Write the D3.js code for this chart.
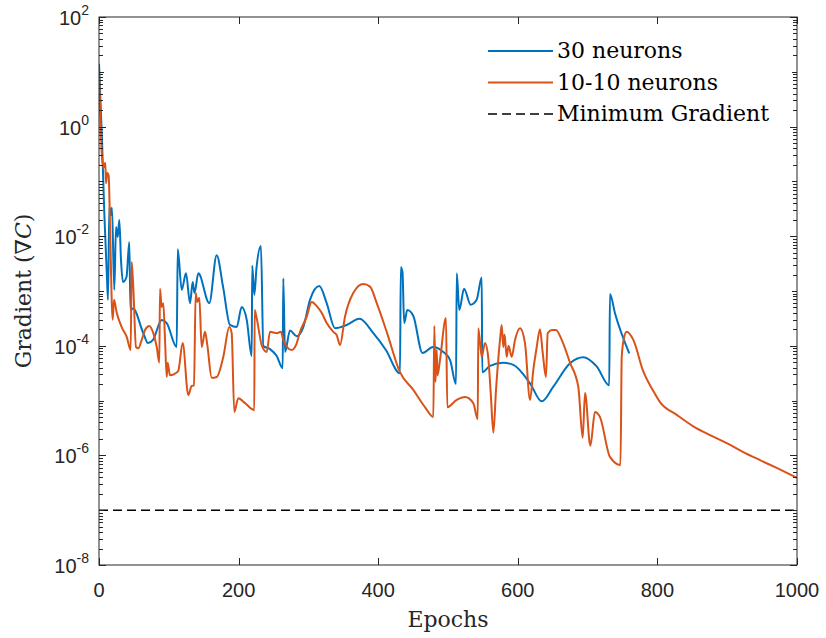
<!DOCTYPE html>
<html>
<head>
<meta charset="utf-8">
<script src="https://cdn.jsdelivr.net/npm/d3@7"></script>
<style>
  body { margin: 0; background: #fff; }
  svg { display: block; }
</style>
</head>
<body>
<svg width="826" height="638"></svg>
<script>
// Data
var epochs30 = [0, 4.3, 6.2, 7.6, 11, 12.9, 14.8, 16.5, 18.6, 21.9, 24.4, 26.8, 29.1, 31.5, 34.4, 39.4, 43.4, 45.1, 48.7, 63.5,
  70.2, 77.4, 89.8, 97, 111.3, 112.8, 118.5, 124.6, 130.4, 134.2, 136.8, 142.3, 158, 168.6, 177.7, 187.7, 197.3, 204.4, 211.6, 218.8,
  219.5, 222.5, 225.6, 232, 235.4, 245, 254.6, 263.2, 264, 266.5, 273.6, 283.2, 292.7, 302.3, 315.6, 326.2, 338, 354.9, 373.2, 393,
  411, 431.2, 432.4, 434.8, 437.2, 441.7, 450.3, 463.5, 478.5, 493.3, 503, 511.5, 512.5, 516.2, 523, 532.5, 541, 548.3, 549.1, 560.2,
  579.2, 593.6, 617.5, 634.2, 650.9, 674.8, 693.8, 713, 731, 732, 739.3, 759.7];
var grad30 = [14, 0.57, 0.093, 0.0265, 0.0024, 6.9e-4, 0.034, 0.024, 0.033, 1.05e-3, 0.0147, 0.0097, 0.0198, 0.0037, 0.00146, 0.0018, 0.0078, 4.5e-4, 4.8e-4, 1.7e-4,
  1.12e-4, 1.28e-4, 2.96e-4, 2.6e-4, 9.5e-5, 0.0058, 0.00105, 0.0021, 6.0e-4, 0.00146, 9.2e-4, 0.0021, 6.0e-4, 0.0045, 0.0012, 2.4e-4, 2.2e-4, 5.1e-4, 3.0e-4, 6.5e-5,
  0.0029, 8.5e-4, 0.0026, 0.0066, 9.9e-5, 8.7e-5, 6.5e-5, 3.9e-5, 0.0017, 7.7e-5, 1.9e-4, 1.5e-4, 2.2e-4, 6.9e-4, 0.00123, 6.0e-4, 2.1e-4, 2.4e-4, 3.1e-4, 1.7e-4,
  8.4e-5, 3.15e-5, 0.0027, 0.0022, 2.6e-4, 4.5e-4, 3.5e-4, 7.4e-5, 9.5e-5, 7.7e-5, 5.5e-5, 2.0e-5, 0.0021, 4.5e-4, 0.0011, 5.6e-4, 6.9e-4, 0.00176, 3.3e-5, 4.3e-5,
  4.9e-5, 4.5e-5, 2.07e-5, 9.7e-6, 1.8e-5, 4.8e-5, 6.2e-5, 4.2e-5, 1.9e-5, 8.8e-4, 3.9e-4, 7.3e-5];

var epochs1010 = [0, 4.3, 6.2, 9, 10, 11.9, 13.9, 15.8, 19.6, 21.5, 25.4, 32.5, 39.7, 45.4, 46.8, 49.1, 53, 56.3, 61.2, 65.9,
  72, 77.8, 82.7, 86.4, 87.4, 89.8, 92.1, 94.6, 97, 98.4, 101.7, 110.3, 113.6, 119.9, 127.9, 132.8, 136.1, 138.5, 140.8, 143.7,
  147.1, 151.9, 155.2, 161.5, 168.6, 178.1, 186.7, 190.1, 193.8, 199.6, 209.2, 222.5, 223, 225.9, 233.1, 240.3, 245, 254.6, 260.7, 264,
  269.3, 276, 282.2, 288, 297.6, 304.7, 311.9, 319, 326.2, 335.7, 340.5, 345.3, 352.4, 364.3, 378.7, 388.3, 397.9, 412.2, 431.2, 450.3,
  467, 479, 480.4, 482.1, 483.8, 485, 488.5, 497.1, 499, 512.5, 524.4, 536.2, 542.6, 543.4, 548.3, 553, 557.7, 561.2, 565, 568.8,
  574.5, 576.9, 579.2, 581, 584.1, 586.7, 591.3, 596, 603.2, 610.3, 617.5, 622.2, 627.1, 631.8, 635.7, 640.4, 642.8, 648.6, 654.7, 662.9,
  674.8, 686.7, 693, 696.3, 703.9, 710.6, 717.8, 732, 747.1, 748.9, 752.1, 756, 765.5, 779.8, 794.1, 803.7, 827.7, 851.4, 875.4, 899.3,
  923.1, 947, 970.9, 1000];
var grad1010 = [10, 0.28, 0.18, 0.22, 0.093, 0.142, 0.126, 0.0147, 3.0e-4, 6.9e-4, 4.0e-4, 2.2e-4, 1.45e-4, 8.4e-5, 0.0034, 0.0012, 9.5e-5, 9.0e-5, 1.28e-4, 1.94e-4,
  2.3e-4, 1.7e-4, 9.5e-5, 4.9e-5, 0.0011, 5.1e-4, 6.0e-4, 1.28e-4, 2.7e-5, 4.9e-5, 2.9e-5, 3.2e-5, 3.5e-5, 1.12e-4, 1.26e-5, 1.85e-5, 1.9e-5, 9.2e-4, 6.3e-4, 7.5e-4,
  9.5e-5, 1.8e-4, 1.03e-4, 2.6e-5, 2.7e-5, 6.3e-5, 2.2e-4, 1.7e-4, 6.2e-6, 1.1e-5, 9.0e-6, 6.7e-6, 4.5e-4, 3.2e-4, 1.03e-4, 7.7e-5, 1.8e-4, 1.7e-4, 1.8e-4, 1.28e-4,
  9.5e-5, 8.4e-5, 1.03e-4, 1.8e-4, 3.4e-4, 6.3e-4, 5.3e-4, 4.0e-4, 2.6e-4, 1.8e-4, 1.57e-4, 1.03e-4, 3.4e-4, 9.2e-4, 1.34e-3, 1.2e-3, 6.0e-4, 1.8e-4, 3.3e-5, 1.57e-5,
  7.6e-6, 5.0e-6, 2.3e-4, 2.2e-5, 8.4e-5, 2.9e-5, 5.5e-5, 3.2e-4, 7.6e-6, 1.03e-5, 1.16e-5, 9.0e-6, 4.6e-6, 2.1e-4, 6.3e-5, 1.12e-4, 6.0e-5, 1.38e-5, 2.6e-6, 1.57e-5,
  1.28e-4, 2.4e-4, 9.5e-5, 1.6e-4, 6.3e-5, 1.0e-4, 6.3e-5, 1.28e-4, 2.1e-4, 1.12e-4, 1.03e-5, 3.6e-5, 9.5e-5, 2.0e-4, 7.4e-5, 2.7e-5, 1.7e-4, 1.94e-4, 1.94e-4, 1.28e-4,
  4.9e-5, 1.77e-5, 2.1e-6, 1.38e-5, 1.5e-6, 6.2e-6, 5.0e-6, 9.4e-7, 6.7e-7, 6.3e-5, 1.39e-4, 1.8e-4, 1.28e-4, 3.4e-5, 1.5e-5, 9.4e-6, 5.5e-6, 3.4e-6, 2.35e-6, 1.68e-6,
  1.15e-6, 8.2e-7, 5.9e-7, 3.9e-7];

var minGradient = 1e-7;
var xTicks = [0, 200, 400, 600, 800, 1000];
var yTickExps = [-8, -6, -4, -2, 0, 2];
var seriesNames = ["30 neurons", "10-10 neurons", "Minimum Gradient"];

// The svg
var svg = d3.select("svg"),
    margin = {left: 99, right: 29, top: 17, bottom: 73},
    width = +svg.attr("width") - margin.left - margin.right,
    height = +svg.attr("height") - margin.top - margin.bottom;

var axisColor = "#262626",
    blue = "#0072BD",
    orange = "#D95319",
    sans = "'Liberation Sans', Arial, Helvetica, sans-serif",
    serif = "'DejaVu Serif', serif";

var g = svg.append("g").attr("transform", "translate(" + margin.left + "," + margin.top + ")");

var x = d3.scaleLinear().domain([0, 1000]).range([0, width]);
var y = d3.scaleLog().domain([1e-8, 1e2]).range([height, 0]);

// clip so nothing spills out of the box
g.append("clipPath").attr("id", "clip")
  .append("rect").attr("width", width).attr("height", height);

var line = d3.line()
  .x(function(d){ return x(d[0]) })
  .y(function(d){ return y(d[1]) })
  .curve(d3.curveMonotoneX);

var plot = g.append("g").attr("clip-path", "url(#clip)");

// minimum gradient
plot.append("line")
  .attr("x1", x(0)).attr("x2", x(1000))
  .attr("y1", y(minGradient)).attr("y2", y(minGradient))
  .attr("stroke", "#000").attr("stroke-width", 1.5)
  .attr("stroke-dasharray", "9,5");

plot.append("path")
  .datum(d3.zip(epochs30, grad30))
  .attr("fill", "none").attr("stroke", blue).attr("stroke-width", 2)
  .attr("stroke-linejoin", "round")
  .attr("d", line);

plot.append("path")
  .datum(d3.zip(epochs1010, grad1010))
  .attr("fill", "none").attr("stroke", orange).attr("stroke-width", 2)
  .attr("stroke-linejoin", "round")
  .attr("d", line);

// box
g.append("rect")
  .attr("width", width).attr("height", height)
  .attr("fill", "none").attr("stroke", axisColor).attr("stroke-width", 1);

// x ticks, bottom and top, pointing inward
xTicks.forEach(function(t){
  var px = Math.round(x(t)) + 0.5;
  g.append("line").attr("x1", px).attr("x2", px).attr("y1", height).attr("y2", height - 7)
    .attr("stroke", axisColor);
  g.append("line").attr("x1", px).attr("x2", px).attr("y1", 0).attr("y2", 7)
    .attr("stroke", axisColor);
  g.append("text")
    .attr("x", x(t)).attr("y", height + 32)
    .attr("text-anchor", "middle")
    .style("font-family", sans).style("font-size", "20px").style("fill", axisColor)
    .text(t);
});

// y ticks on a log axis, both sides
for (var e = -8; e <= 2; e++) {
  for (var m = 1; m <= 9; m++) {
    if (e == 2 && m > 1) break;
    var v = m * Math.pow(10, e);
    var py = Math.round(y(v)) + 0.5;
    var len = m == 1 ? (e % 2 == 0 ? 7 : 5) : 4;
    g.append("line").attr("x1", 0).attr("x2", len).attr("y1", py).attr("y2", py).attr("stroke", axisColor);
    g.append("line").attr("x1", width).attr("x2", width - len).attr("y1", py).attr("y2", py).attr("stroke", axisColor);
  }
}

yTickExps.forEach(function(ex){
  var t = g.append("text")
    .attr("x", -10).attr("y", y(Math.pow(10, ex)) + 8)
    .attr("text-anchor", "end")
    .style("font-family", sans).style("font-size", "20px").style("fill", axisColor);
  t.append("tspan").text("10");
  t.append("tspan").attr("dy", -10).style("font-size", "14px").text(ex);
});

// axis labels
svg.append("text")
  .attr("x", margin.left + width / 2).attr("y", 627)
  .attr("text-anchor", "middle")
  .style("font-family", serif).style("font-size", "22px").style("fill", axisColor)
  .text("Epochs");

var yl = svg.append("text")
  .attr("transform", "translate(31," + (margin.top + height / 2) + ") rotate(-90)")
  .attr("text-anchor", "middle")
  .style("font-family", serif).style("font-size", "22px").style("fill", axisColor);
yl.append("tspan").text("Gradient (\u2207");
yl.append("tspan").style("font-style", "italic").text("C");
yl.append("tspan").text(")");

// legend
var legend = svg.append("g").attr("transform", "translate(488,51)");
var legendStyles = [
  {color: blue, dash: null, w: 2},
  {color: orange, dash: null, w: 2},
  {color: "#000", dash: "9,5", w: 1.5}
];
seriesNames.forEach(function(name, i){
  var ly = i * 31.5;
  legend.append("line")
    .attr("x1", 0).attr("x2", 65).attr("y1", ly).attr("y2", ly)
    .attr("stroke", legendStyles[i].color).attr("stroke-width", legendStyles[i].w)
    .attr("stroke-dasharray", legendStyles[i].dash);
  legend.append("text")
    .attr("x", 69).attr("y", ly + 7)
    .style("font-family", serif).style("font-size", "22px").style("fill", "#000")
    .text(name);
});
</script>
</body>
</html>
